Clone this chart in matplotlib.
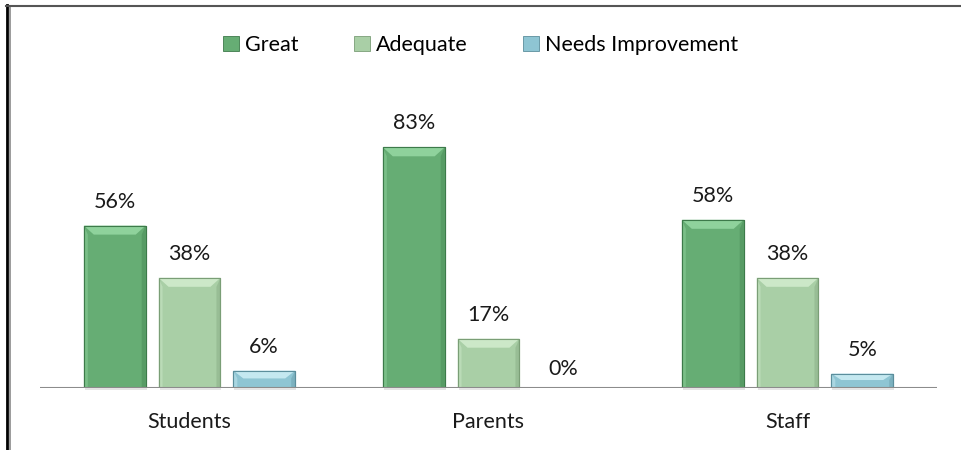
import matplotlib.pyplot as plt
from matplotlib.patches import Polygon, Rectangle
from matplotlib.lines import Line2D
import numpy as np

categories = ["Students", "Parents", "Staff"]
series_names = ["Great", "Adequate", "Needs Improvement"]
great = [56, 83, 58]
adequate = [38, 17, 38]
needs_improvement = [6, 0, 5]

face_colors = ["#66ad74", "#a9cfa6", "#8ec5d3"]
light_colors = ["#8fd29c", "#cce8c8", "#c4e8f0"]
dark_colors = ["#3d7a4a", "#7a9e76", "#5b8e9c"]

plt.rcParams["font.family"] = ["Lato", "DejaVu Sans"]

W, H = 961, 450
fig = plt.figure(figsize=(W / 100, H / 100), dpi=100)
ax = fig.add_axes([40 / W, (H - 388) / H, 897 / W, 290 / H])
ax.set_xlim(-0.5, 2.5)
ax.set_ylim(0, 100)

# data units per pixel, used for the bevel edges
px_x = 3 / 897
px_y = 100 / 290

bar_w = 0.207
offsets = [-0.25, 0.0, 0.25]
x = np.arange(len(categories))
fs = 15.5

for values, off, face, light, dark in zip(
    [great, adequate, needs_improvement], offsets, face_colors, light_colors, dark_colors
):
    for xi, v in zip(x, values):
        if v <= 0:
            ax.text(xi + off, 3, f"{v}%", ha="center", va="bottom", fontsize=fs, color="#1a1a1a")
            continue
        left = xi + off - bar_w / 2
        right = left + bar_w
        # soft shadow
        ax.add_patch(Rectangle((left + 1 * px_x, -2 * px_y), bar_w, v, facecolor="#000000",
                               alpha=0.10, edgecolor="none", zorder=1, clip_on=False))
        ax.bar(xi + off, v, width=bar_w, color=face, edgecolor=dark, linewidth=0.8, zorder=2)
        bev_x = 10 * px_x
        bev_y = min(9 * px_y, v * 0.45)
        # top bevel
        ax.add_patch(Polygon([(left, v), (right, v), (right - bev_x, v - bev_y), (left + bev_x, v - bev_y)],
                             closed=True, facecolor=light, edgecolor="none", zorder=3))
        # side bevels
        ax.add_patch(Polygon([(left, v), (left + bev_x * 0.4, v - bev_y), (left + bev_x * 0.4, 0), (left, 0)],
                             closed=True, facecolor=light, alpha=0.5, edgecolor="none", zorder=3))
        ax.add_patch(Polygon([(right, v), (right - bev_x * 0.4, v - bev_y), (right - bev_x * 0.4, 0), (right, 0)],
                             closed=True, facecolor=dark, alpha=0.35, edgecolor="none", zorder=3))
        ax.add_patch(Rectangle((left, 0), bar_w, v, facecolor="none", edgecolor=dark, linewidth=0.8, zorder=4))
        ax.text(xi + off, v + 14 * px_y, f"{v}%", ha="center", va="bottom", fontsize=fs, color="#1a1a1a")

ax.axhline(0, color="#8c8c8c", linewidth=1.5, zorder=5)
for s in ax.spines.values():
    s.set_visible(False)
ax.set_yticks([])
ax.set_xticks(x)
ax.set_xticklabels(categories, fontsize=fs, color="#1a1a1a")
ax.tick_params(axis="x", length=0, pad=17)

handles = [Rectangle((0, 0), 1, 1, facecolor=c, edgecolor=d, linewidth=0.6)
           for c, d in zip(face_colors, dark_colors)]
fig.legend(handles, series_names, loc="center", bbox_to_anchor=(0.5, 1 - 45 / H), ncol=3,
           frameon=False, fontsize=fs, handlelength=0.75, handleheight=0.75, handletextpad=0.25,
           columnspacing=2.6)

# frame lines around the chart
fig.add_artist(Line2D([6.5 / W, 6.5 / W], [0, 1 - 5 / H], color="black", linewidth=2))
fig.add_artist(Line2D([10 / W, 10 / W], [0, 1 - 7 / H], color="#8a8a8a", linewidth=1.2))
fig.add_artist(Line2D([5.5 / W, 1], [1 - 5.5 / H, 1 - 5.5 / H], color="#555555", linewidth=1.5))

fig.savefig("out.png", dpi=100)
